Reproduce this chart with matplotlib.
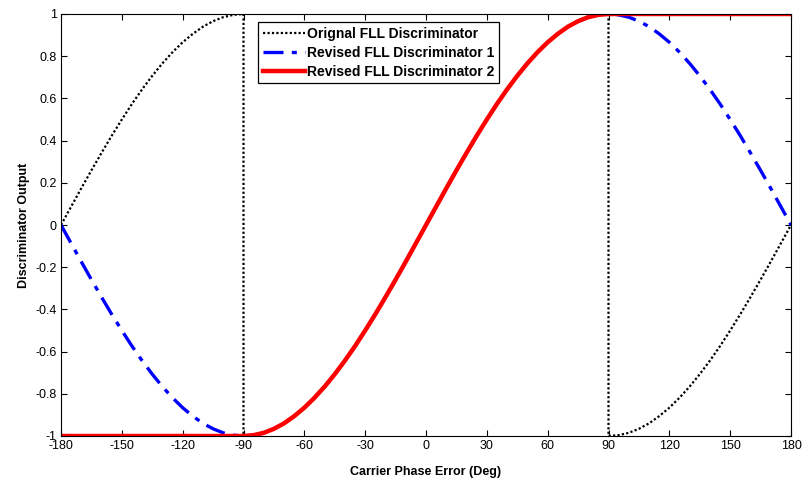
import matplotlib
matplotlib.use("Agg")
import matplotlib.pyplot as plt

plt.rcParams['font.family'] = ['Liberation Sans', 'DejaVu Sans']

# carrier phase error grid (degrees), 5-degree steps
phase = list(range(-180, 185, 5))

# Revised FLL Discriminator 1 (full sine shape)
revised1 = [0.000, -0.087, -0.174, -0.259, -0.342, -0.423, -0.500, -0.574, -0.643, -0.707,
            -0.766, -0.819, -0.866, -0.906, -0.940, -0.966, -0.985, -0.996, -1.000,
            -0.996, -0.985, -0.966, -0.940, -0.906, -0.866, -0.819, -0.766, -0.707, -0.643,
            -0.574, -0.500, -0.423, -0.342, -0.259, -0.174, -0.087, 0.000,
            0.087, 0.174, 0.259, 0.342, 0.423, 0.500, 0.574, 0.643, 0.707, 0.766, 0.819,
            0.866, 0.906, 0.940, 0.966, 0.985, 0.996, 1.000,
            0.996, 0.985, 0.966, 0.940, 0.906, 0.866, 0.819, 0.766, 0.707, 0.643, 0.574,
            0.500, 0.423, 0.342, 0.259, 0.174, 0.087, 0.000]

# Revised FLL Discriminator 2 (saturated outside +/-90 deg)
revised2 = [-1.000] * 19 + [
            -0.996, -0.985, -0.966, -0.940, -0.906, -0.866, -0.819, -0.766, -0.707, -0.643,
            -0.574, -0.500, -0.423, -0.342, -0.259, -0.174, -0.087, 0.000,
            0.087, 0.174, 0.259, 0.342, 0.423, 0.500, 0.574, 0.643, 0.707, 0.766, 0.819,
            0.866, 0.906, 0.940, 0.966, 0.985, 0.996] + [1.000] * 19

# Original FLL Discriminator: three branches with jumps at -90 and 90 deg
orig_x_left = list(range(-180, -85, 5))
orig_left = [0.000, 0.087, 0.174, 0.259, 0.342, 0.423, 0.500, 0.574, 0.643, 0.707,
             0.766, 0.819, 0.866, 0.906, 0.940, 0.966, 0.985, 0.996, 1.000]
orig_x_mid = list(range(-90, 95, 5))
orig_mid = [-1.000, -0.996, -0.985, -0.966, -0.940, -0.906, -0.866, -0.819, -0.766, -0.707,
            -0.643, -0.574, -0.500, -0.423, -0.342, -0.259, -0.174, -0.087, 0.000,
            0.087, 0.174, 0.259, 0.342, 0.423, 0.500, 0.574, 0.643, 0.707, 0.766, 0.819,
            0.866, 0.906, 0.940, 0.966, 0.985, 0.996, 1.000]
orig_x_right = list(range(90, 185, 5))
orig_right = [-1.000, -0.996, -0.985, -0.966, -0.940, -0.906, -0.866, -0.819, -0.766, -0.707,
              -0.643, -0.574, -0.500, -0.423, -0.342, -0.259, -0.174, -0.087, 0.000]

orig_x = orig_x_left + orig_x_mid + orig_x_right
orig_y = orig_left + orig_mid + orig_right

xticks = [-180, -150, -120, -90, -60, -30, 0, 30, 60, 90, 120, 150, 180]
yticks = [-1, -0.8, -0.6, -0.4, -0.2, 0, 0.2, 0.4, 0.6, 0.8, 1]
ytick_labels = ['-1', '-0.8', '-0.6', '-0.4', '-0.2', '0', '0.2', '0.4', '0.6', '0.8', '1']

fig = plt.figure(figsize=(8.02, 4.82), dpi=100)
ax = fig.add_axes([61 / 802, 1 - 436 / 482, 730 / 802, 422 / 482])

ax.plot(orig_x, orig_y, color='black', linestyle=(0, (1, 1)), linewidth=1.6,
        label='Orignal FLL Discriminator')
ax.plot(phase, revised1, color='#0000ff', linestyle=(0, (6, 2.5, 1.5, 2.5)),
        linewidth=2.4, label='Revised FLL Discriminator 1')
ax.plot(phase, revised2, color='#ff0000', linestyle='-', linewidth=3.2,
        label='Revised FLL Discriminator 2')

ax.set_xlim(-180, 180)
ax.set_ylim(-1, 1)
ax.set_xticks(xticks)
ax.set_xticklabels([str(t) for t in xticks])
ax.set_yticks(yticks)
ax.set_yticklabels(ytick_labels)
ax.tick_params(direction='in', length=4, width=0.8, top=True, right=True,
               labelsize=9, pad=3)
for s in ax.spines.values():
    s.set_linewidth(0.8)

ax.set_xlabel('Carrier Phase Error (Deg)', fontsize=9, fontweight='bold', labelpad=10)
ax.set_ylabel('Discriminator Output', fontsize=9, fontweight='bold', labelpad=4)

leg = ax.legend(loc='upper left', bbox_to_anchor=(0.27, 0.981), borderaxespad=0,
                fancybox=False, framealpha=1, edgecolor='black',
                prop={'weight': 'bold', 'size': 10}, handlelength=3.0,
                handletextpad=0.15, labelspacing=0.35, borderpad=0.35)
leg.get_frame().set_linewidth(0.9)

fig.savefig('out.png', dpi=100)
